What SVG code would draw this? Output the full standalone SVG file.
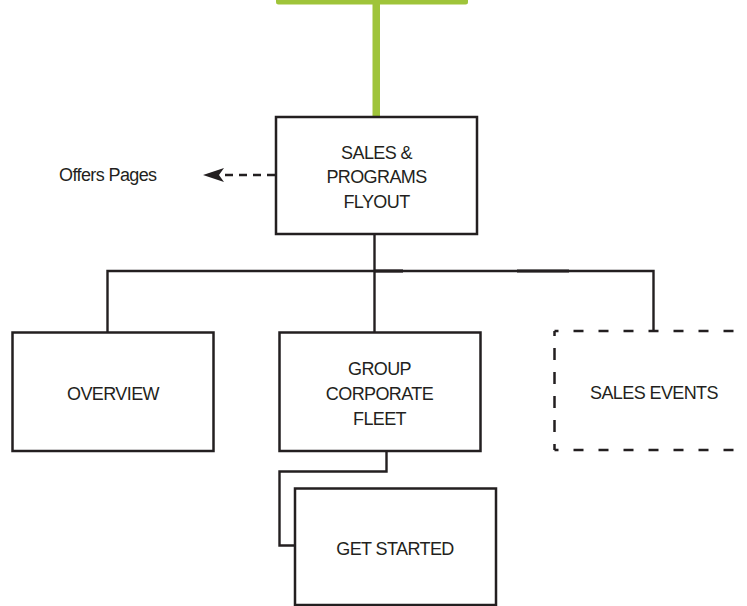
<svg xmlns="http://www.w3.org/2000/svg" width="747" height="606" viewBox="0 0 747 606">
  <defs>
    <style>
      .box { fill: #ffffff; stroke: #231f20; stroke-width: 2.5; }
      .link { fill: none; stroke: #231f20; stroke-width: 2.4; }
      .bold { fill: none; stroke: #231f20; stroke-width: 3.2; }
      .dash { fill: none; stroke: #231f20; stroke-width: 2.5; }
      .lbl { font-family: "Liberation Sans", Arial, sans-serif; font-size: 18px; letter-spacing: -0.6px; fill: #231f20; text-anchor: middle; }
      .side { font-family: "Liberation Sans", Arial, sans-serif; font-size: 18px; letter-spacing: -0.6px; fill: #231f20; }
      .green { fill: #9fc43a; }
    </style>
  </defs>

  <rect width="747" height="606" fill="#ffffff"/>

  <!-- connectors -->
  <g id="connectors">
    <!-- green feed from the parent menu -->
    <rect class="green" x="276" y="-4" width="192" height="8.5" rx="2.5"/>
    <rect class="green" x="372.5" y="0" width="7.5" height="117"/>

    <!-- flyout to offers pages (dashed, arrow left) -->
    <line class="dash" x1="275" y1="175" x2="224" y2="175" stroke-dasharray="8 6"/>
    <polygon points="203,175 224,168 219,175 224,182" fill="#231f20"/>

    <!-- flyout down to the bus -->
    <line class="link" x1="374.5" y1="234" x2="374.5" y2="333"/>
    <!-- bus with drops to the three children -->
    <path class="link" d="M107.5 333 V271 H653.5 V331"/>
    <line class="bold" x1="374" y1="271" x2="403" y2="271"/>
    <line class="bold" x1="517" y1="271" x2="569" y2="271"/>

    <!-- group corporate fleet to get started -->
    <path class="link" d="M386.5 451 V471.5 H279.5 V545.5 H296"/>
  </g>

  <g id="node-flyout">
    <rect class="box" x="276" y="117" width="201" height="117"/>
    <text class="lbl" x="376.5" y="159">SALES &amp;</text>
    <text class="lbl" x="376.5" y="183.3">PROGRAMS</text>
    <text class="lbl" x="376.5" y="207.7">FLYOUT</text>
  </g>

  <g id="node-offers">
    <text class="side" x="59" y="181">Offers Pages</text>
  </g>

  <g id="node-overview">
    <rect class="box" x="12.5" y="332.5" width="201" height="118.5"/>
    <text class="lbl" x="113" y="400">OVERVIEW</text>
  </g>

  <g id="node-group">
    <rect class="box" x="279.5" y="332.5" width="201" height="118.5"/>
    <text class="lbl" x="379.5" y="375">GROUP</text>
    <text class="lbl" x="379.5" y="400">CORPORATE</text>
    <text class="lbl" x="379.5" y="424.5">FLEET</text>
  </g>

  <g id="node-sales-events">
    <line class="dash" x1="554.5" y1="331" x2="760" y2="331" stroke-dasharray="10 15" stroke-dashoffset="6"/>
    <line class="dash" x1="554.5" y1="331" x2="554.5" y2="450" stroke-dasharray="12 12" stroke-dashoffset="7"/>
    <line class="dash" x1="554.5" y1="450" x2="760" y2="450" stroke-dasharray="10 15" stroke-dashoffset="6"/>
    <text class="lbl" x="654" y="398.5">SALES EVENTS</text>
  </g>

  <g id="node-get-started">
    <rect class="box" x="295" y="488.5" width="201" height="116.5"/>
    <text class="lbl" x="395" y="554.5">GET STARTED</text>
  </g>
</svg>
